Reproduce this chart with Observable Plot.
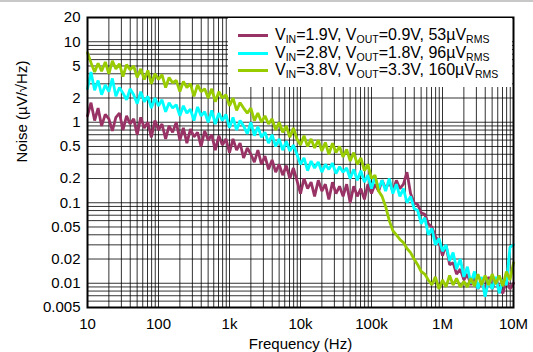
<!DOCTYPE html>
<html><head><meta charset="utf-8">
<script src="https://cdn.jsdelivr.net/npm/d3@7"></script>
<script src="https://cdn.jsdelivr.net/npm/@observablehq/plot@0.6"></script>
<style>
body{margin:0;background:#fff;font-family:"Liberation Sans",Arial,Helvetica,sans-serif;}
#wrap{position:relative;width:533px;height:352px;}
#topline{position:absolute;left:0;top:0;width:533px;height:2px;background:#c8c8c8;}
#legend{position:absolute;left:228px;top:18px;width:284px;height:69px;background:#fff;}
.row{position:absolute;left:0;height:18px;font-size:16px;line-height:18px;white-space:nowrap;color:#000}
.sw{position:absolute;left:10px;top:8px;width:30px;height:3px}
.lbl{position:absolute;left:47px;top:0}
.sub{font-size:10.5px;position:relative;top:3px}
</style>
</head><body>
<div id="wrap"><div id="topline"></div><div id="chart"></div><div id="legend"></div></div>
<script>
const freqHz = [
 10,11.2,12.6,14.1,15.8,17.8,20,22.4,25.1,28.2,31.6,35.5,39.8,44.7,50.1,56.2,63.1,70.8,79.4,89.1,
 100,112,126,141,158,178,200,224,251,282,316,355,398,447,501,562,631,708,794,891,
 1e3,1.12e3,1.26e3,1.41e3,1.58e3,1.78e3,2e3,2.24e3,2.51e3,2.82e3,3.16e3,3.55e3,3.98e3,4.47e3,5.01e3,5.62e3,6.31e3,7.08e3,7.94e3,8.91e3,
 1e4,1.12e4,1.26e4,1.41e4,1.58e4,1.78e4,2e4,2.24e4,2.51e4,2.82e4,3.16e4,3.55e4,3.98e4,4.47e4,5.01e4,5.62e4,6.31e4,7.08e4,7.94e4,8.91e4,
 1e5,1.12e5,1.26e5,1.41e5,1.58e5,1.78e5,2e5,2.24e5,2.51e5,2.82e5,3.16e5,3.55e5,3.98e5,4.47e5,5.01e5,5.62e5,6.31e5,7.08e5,7.94e5,8.91e5,
 1e6,1.12e6,1.26e6,1.41e6,1.58e6,1.78e6,2e6,2.24e6,2.51e6,2.82e6,3.16e6,3.55e6,3.98e6,4.47e6,5.01e6,5.62e6,6.31e6,7.08e6,7.94e6,8.91e6,
 1e7];

// VIN=1.9V, VOUT=0.9V (µV/√Hz)
const noise19 = [
 1.2,1.75,1.05,1.5,0.9,1.25,1.1,0.78,1.15,1.3,0.8,1.2,0.95,1.1,0.7,1.15,0.85,1.0,0.65,1.05,
 0.8,0.95,0.62,0.9,0.75,1.0,0.6,0.85,0.55,0.82,0.66,0.75,0.5,0.78,0.6,0.7,0.45,0.68,0.52,0.62,
 0.42,0.62,0.45,0.55,0.36,0.48,0.4,0.32,0.45,0.3,0.38,0.26,0.34,0.24,0.3,0.22,0.29,0.2,0.27,0.19,
 0.13,0.2,0.15,0.18,0.12,0.19,0.14,0.17,0.11,0.18,0.13,0.16,0.12,0.17,0.1,0.16,0.12,0.15,0.11,0.17,
 0.13,0.17,0.14,0.19,0.15,0.18,0.14,0.19,0.15,0.17,0.24,0.13,0.1,0.095,0.075,0.072,0.055,0.05,0.038,0.033,
 0.022,0.03,0.017,0.018,0.013,0.015,0.011,0.013,0.0095,0.012,0.0085,0.011,0.0078,0.012,0.0085,0.011,0.009,0.0075,0.011,0.0085,
 0.01];

// VIN=2.8V, VOUT=1.8V
const noise28 = [
 2.6,4.2,2.5,3.3,2.2,2.9,2.4,3.5,2.1,2.7,2.3,1.9,2.6,2.2,1.7,2.4,1.8,2.1,1.5,2.0,
 1.6,1.9,1.35,1.75,1.5,1.65,1.2,1.6,1.3,1.45,1.05,1.55,1.2,1.35,1.0,1.4,0.95,1.3,1.05,1.25,
 0.85,1.15,0.8,1.05,0.9,0.72,1.0,0.68,0.88,0.65,0.75,0.55,0.7,0.5,0.62,0.45,0.58,0.44,0.52,0.4,
 0.3,0.36,0.25,0.33,0.27,0.32,0.24,0.3,0.26,0.31,0.23,0.28,0.24,0.27,0.2,0.26,0.19,0.25,0.18,0.22,
 0.15,0.21,0.15,0.19,0.14,0.2,0.13,0.17,0.12,0.15,0.1,0.12,0.085,0.08,0.055,0.065,0.04,0.048,0.03,0.036,
 0.025,0.03,0.019,0.024,0.015,0.02,0.012,0.016,0.01,0.014,0.0085,0.012,0.0068,0.011,0.0085,0.012,0.0075,0.011,0.0095,0.028,
 0.03];

// VIN=3.8V, VOUT=3.3V
const noise38 = [
 7.3,5.5,4.2,5.4,4.3,5.6,4.0,5.8,4.6,5.3,3.7,5.2,4.5,5.0,3.6,4.6,3.4,4.4,3.0,4.0,
 3.4,3.9,2.7,3.6,3.1,3.3,2.4,3.2,2.7,3.0,2.1,2.9,2.4,2.6,2.0,2.6,1.8,2.4,2.0,2.2,
 1.6,2.0,1.4,1.75,1.5,1.3,1.5,1.05,1.3,1.0,1.2,0.95,1.1,0.8,1.0,0.75,0.9,0.65,0.85,0.62,
 0.52,0.68,0.5,0.62,0.48,0.6,0.44,0.56,0.4,0.55,0.42,0.5,0.37,0.46,0.33,0.42,0.3,0.36,0.25,0.3,
 0.2,0.22,0.14,0.12,0.09,0.06,0.045,0.04,0.035,0.032,0.027,0.024,0.02,0.017,0.014,0.013,0.011,0.0095,0.012,0.0085,
 0.011,0.009,0.0125,0.0095,0.0115,0.009,0.0105,0.009,0.0115,0.0092,0.013,0.0095,0.0125,0.0095,0.013,0.0098,0.0125,0.0092,0.014,0.011,
 0.018];

const seriesKeys = ["1.9V", "2.8V", "3.8V"];
const seriesColors = ["#993366", "#00ffff", "#99cc00"];
const legendVin = ["1.9V", "2.8V", "3.8V"];
const legendVout = ["0.9V", "1.8V", "3.3V"];
const legendRms = ["53", "96", "160"];

const xTickValues = [10, 100, 1e3, 1e4, 1e5, 1e6, 1e7];
const xTickLabels = ["10", "100", "1k", "10k", "100k", "1M", "10M"];
const yTickValues = [20, 10, 5, 2, 1, 0.5, 0.2, 0.1, 0.05, 0.02, 0.01, 0.005];
const yTickLabels = ["20", "10", "5", "2", "1", "0.5", "0.2", "0.1", "0.05", "0.02", "0.01", "0.005"];

const xDomain = [10, 1e7];
const yDomain = [0.005, 20];

const seriesValues = [noise19, noise28, noise38];
const data = [];
seriesKeys.forEach((s, k) => freqHz.forEach((f, i) => data.push({s, f, v: seriesValues[k][i]})));

const xGrid = d3.scaleLog().domain(xDomain).ticks();
const yGrid = d3.scaleLog().domain(yDomain).ticks();

const chart = Plot.plot({
  width: 533, height: 352,
  marginLeft: 87, marginRight: 20, marginTop: 17, marginBottom: 45,
  style: {fontFamily: '"Liberation Sans", Arial, Helvetica, sans-serif', fontSize: "15px", color: "#000", background: "transparent"},
  x: {type: "log", domain: xDomain},
  y: {type: "log", domain: yDomain, axis: null},
  marks: [
    Plot.gridX(xGrid, {stroke: "#000", strokeOpacity: 0.8, strokeWidth: 1}),
    Plot.gridY(yGrid, {stroke: "#000", strokeOpacity: 0.8, strokeWidth: 1}),
    Plot.axisX(xTickValues, {tickSize: 0, tickPadding: 11, tickFormat: d => xTickLabels[xTickValues.indexOf(d)],
      label: "Frequency (Hz)", labelAnchor: "center", labelOffset: 41, labelArrow: "none", fontSize: 15}),
    Plot.text(yTickValues, {y: d => d, text: (d, i) => yTickLabels[i], frameAnchor: "left", textAnchor: "end", dx: -7, fontSize: 15}),
    Plot.text(["Noise (\u00b5V/\u221aHz)"], {frameAnchor: "left", rotate: -90, dx: -65, fontSize: 15}),
    Plot.line(data, {x: "f", y: "v", z: "s", stroke: d => seriesColors[seriesKeys.indexOf(d.s)], strokeWidth: 2.8, strokeLinejoin: "miter"}),
    Plot.frame({stroke: "#000", strokeWidth: 2})
  ]
});
document.getElementById("chart").appendChild(chart);

const legend = document.getElementById("legend");
seriesKeys.forEach((s, k) => {
  const row = document.createElement("div");
  row.className = "row";
  row.style.top = (8 + k * 17.5) + "px";
  row.innerHTML = `<div class="sw" style="background:${seriesColors[k]}"></div>` +
    `<span class="lbl">V<span class="sub">IN</span>=${legendVin[k]}, V<span class="sub">OUT</span>=${legendVout[k]}, ${legendRms[k]}\u00b5V<span class="sub">RMS</span></span>`;
  legend.appendChild(row);
});
</script>
</body></html>
